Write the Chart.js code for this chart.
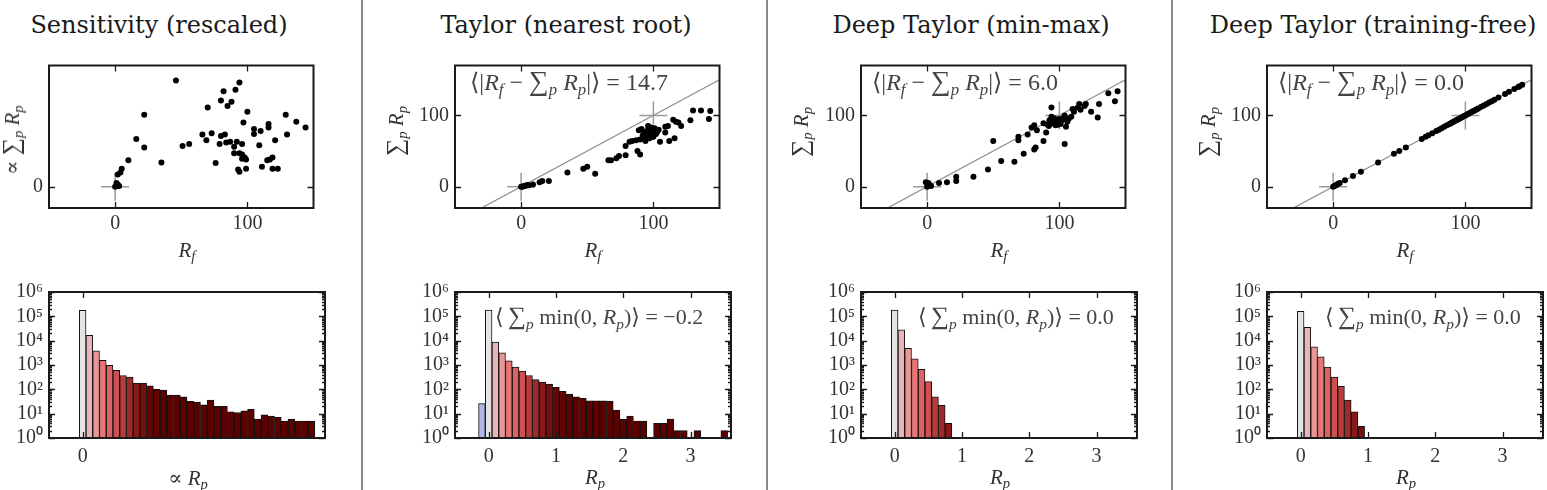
<!DOCTYPE html>
<html>
<head>
<meta charset="utf-8">
<script src="https://cdn.jsdelivr.net/npm/chart.js@4.4.0/dist/chart.umd.min.js"></script>
<style>
body { margin: 0; width: 1547px; height: 490px; background: #fff; position: relative; overflow: hidden;
       font-family: "Liberation Serif", "DejaVu Serif", serif; color: #222; }
canvas { position: absolute; }
.sep { position: absolute; top: 0; width: 2px; height: 490px; background: #8a8a8a; }
.title { position: absolute; font-family: "DejaVu Serif", serif; font-size: 24px; white-space: nowrap;
         transform: translate(-50%, -50%); color: #1a1a1a; }
.lab { position: absolute; font-size: 21px; white-space: nowrap; transform: translate(-50%, -50%); color: #333; }
.rot { transform: translate(-50%, -50%) rotate(-90deg); }
.ann { position: absolute; font-size: 22px; white-space: nowrap; transform: translateY(-50%); color: #444; }
.ann.top { font-size: 24px; }
sub { font-size: 70%; position: relative; top: 0.3em; vertical-align: baseline; font-style: italic; }
.big { font-size: 115%; }
</style>
</head>
<body>
<div class="sep" style="left:361px"></div>
<div class="sep" style="left:766px"></div>
<div class="sep" style="left:1171px"></div>

<div class="title" style="left:159px;top:25px">Sensitivity (rescaled)</div>
<div class="title" style="left:566px;top:25px">Taylor (nearest root)</div>
<div class="title" style="left:971px;top:25px">Deep Taylor (min-max)</div>
<div class="title" style="left:1373px;top:25px">Deep Taylor (training-free)</div>

<canvas id="sc0" width="328" height="188" style="left:1px;top:50px"></canvas>
<canvas id="sc1" width="328" height="188" style="left:407px;top:50px"></canvas>
<canvas id="sc2" width="328" height="188" style="left:813px;top:50px"></canvas>
<canvas id="sc3" width="328" height="188" style="left:1219px;top:50px"></canvas>
<canvas id="h0" width="328" height="188" style="left:1px;top:280px"></canvas>
<canvas id="h1" width="328" height="188" style="left:407px;top:280px"></canvas>
<canvas id="h2" width="328" height="188" style="left:813px;top:280px"></canvas>
<canvas id="h3" width="328" height="188" style="left:1219px;top:280px"></canvas>

<div class="lab rot" style="left:11px;top:140px">&prop; <span class="big">&sum;</span><sub>p</sub> <i>R</i><sub>p</sub></div>
<div class="lab rot" style="left:395px;top:131px"><span class="big">&sum;</span><sub>p</sub> <i>R</i><sub>p</sub></div>
<div class="lab rot" style="left:800px;top:132px"><span class="big">&sum;</span><sub>p</sub> <i>R</i><sub>p</sub></div>
<div class="lab rot" style="left:1207px;top:132px"><span class="big">&sum;</span><sub>p</sub> <i>R</i><sub>p</sub></div>

<div class="lab" style="left:187px;top:250px"><i>R</i><sub>f</sub></div>
<div class="lab" style="left:593px;top:250px"><i>R</i><sub>f</sub></div>
<div class="lab" style="left:999px;top:250px"><i>R</i><sub>f</sub></div>
<div class="lab" style="left:1405px;top:250px"><i>R</i><sub>f</sub></div>

<div class="lab" style="left:188px;top:478px">&prop; <i>R</i><sub>p</sub></div>
<div class="lab" style="left:595px;top:477px"><i>R</i><sub>p</sub></div>
<div class="lab" style="left:1000px;top:477px"><i>R</i><sub>p</sub></div>
<div class="lab" style="left:1406px;top:477px"><i>R</i><sub>p</sub></div>

<div class="ann top" style="left:470px;top:81px">&lang;|<i>R</i><sub>f</sub> &minus; <span class="big">&sum;</span><sub>p</sub> <i>R</i><sub>p</sub>|&rang; = 14.7</div>
<div class="ann top" style="left:872px;top:81px">&lang;|<i>R</i><sub>f</sub> &minus; <span class="big">&sum;</span><sub>p</sub> <i>R</i><sub>p</sub>|&rang; = 6.0</div>
<div class="ann top" style="left:1278px;top:81px">&lang;|<i>R</i><sub>f</sub> &minus; <span class="big">&sum;</span><sub>p</sub> <i>R</i><sub>p</sub>|&rang; = 0.0</div>
<div class="ann" style="left:495px;top:315px">&lang;&thinsp;<span class="big">&sum;</span><sub>p</sub> min(0, <i>R</i><sub>p</sub>)&rang; = &minus;0.2</div>
<div class="ann" style="left:918px;top:315px">&lang;&thinsp;<span class="big">&sum;</span><sub>p</sub> min(0, <i>R</i><sub>p</sub>)&rang; = 0.0</div>
<div class="ann" style="left:1325px;top:315px">&lang;&thinsp;<span class="big">&sum;</span><sub>p</sub> min(0, <i>R</i><sub>p</sub>)&rang; = 0.0</div>

<script>
// scatter data: R_f (x) against sum of R_p (y)
const sensRf = [46, 94, 91, 82, 80, 88, 85, 70, 100, 22, 129, 137, 97, 144, 116, 116, 105, 105, 110, 130,
                66, 73, 80, 83, 69, 16, 22, 51, 56, 79, 84, 87, 92, 96, 90, 109, 121, 90, 94, 96,
                98, 99, 96, 117, 115, 119, 76, 35, 10, 111, 93, 94, 99, 119, 123, 5, 4, 2, 0, 1, 2, 3, 1, 2];
const sensRp = [149, 146, 136, 134, 121, 119, 113, 111, 105, 101, 101, 91, 90, 83, 88, 83, 81, 74, 78, 73,
                73, 75, 71, 73, 65, 67, 55, 57, 60, 60, 62, 63, 63, 60, 56, 58, 65, 47, 47, 45,
                41, 38, 39, 38, 37, 41, 33, 34, 37, 28, 24, 21, 25, 25, 25, 25, 20, 17, 0, 2, 3, 1, 5, 1];

const taylorRf = [0, 2, 4, 9, 14, 16, 21, 35, 47, 50, 56, 66, 68, 72, 74, 79, 79, 82, 84, 87,
                  88, 90, 89, 91, 94, 96, 93, 90, 99, 100, 97, 94, 101, 103, 105, 109, 109, 111, 112, 116,
                  115, 117, 119, 121, 128, 130, 136, 142, 143, 92, 95, 97, 98, 93, 96, 100, 102, 99, 104,
                  1, 3, 5, 6];
const taylorRp = [0, 1, 2, 3, 6, 8, 8, 20, 25, 28, 18, 37, 37, 40, 43, 44, 57, 63, 64, 65,
                  50, 45, 79, 81, 76, 85, 70, 66, 70, 80, 74, 64, 82, 77, 63, 76, 84, 85, 64, 68,
                  94, 91, 90, 85, 93, 107, 107, 95, 106, 72, 78, 68, 83, 75, 72, 70, 74, 76, 80,
                  0, 1, 2, 2];

const minmaxRf = [0, 1, 2, -1, 3, 9, 15, 22, 22, 35, 46, 50, 56, 66, 69, 69, 73, 76, 79, 81,
                  83, 81, 82, 88, 90, 88, 91, 92.5, 94, 94, 96, 97, 99, 100, 102, 104, 105, 104, 106, 109,
                  110, 114, 115, 119, 120, 124, 129, 130, 137, 142, 144, 116, 111,
                  93, 95, 97, 98, 100, 92, 96, 101, 103, 107];
const minmaxRp = [0, 5, 2, 6, 1, 5, 6, 14, 8, 14, 24, 64, 36, 35, 70, 65, 46, 73, 83, 86,
                  79, 52, 55, 64, 76, 89, 87, 93, 111, 98, 90, 94, 87, 95, 93, 100, 84, 60, 91, 98,
                  109, 111, 116, 113, 116, 105, 97, 116, 131, 120, 134, 108, 105,
                  88, 92, 86, 91, 90, 85, 96, 88, 96, 95];

const freeRf = [0, 1, 2, 3, 4, 5, 9, 15, 21, 34, 46, 50, 55, 67, 70, 72, 75, 78, 80, 82,
                84, 86, 88, 89, 90, 91, 92, 93, 94, 95, 96, 97, 98, 99, 100, 101, 102, 103, 104, 105,
                106, 107, 108, 109, 110, 112, 114, 116, 118, 120, 122, 125, 130, 133, 137, 140, 141, 143];
const freeRp = [0, 1, 2, 3, 4, 5, 9, 15, 21, 34, 46, 50, 55, 67, 70, 72, 75, 78, 80, 82,
                84, 86, 88, 89, 90, 91, 92, 93, 94, 95, 96, 97, 98, 99, 100, 101, 102, 103, 104, 105,
                106, 107, 108, 109, 110, 112, 114, 116, 118, 120, 122, 125, 130, 133, 137, 140, 141, 143];

// histogram data: bin centres of R_p and counts
const sensBins = [0, 0.1, 0.2, 0.3, 0.4, 0.5, 0.6, 0.7, 0.8, 0.9, 1.0, 1.1, 1.2, 1.3, 1.4, 1.5, 1.6, 1.7,
                  1.8, 1.9, 2.0, 2.1, 2.2, 2.3, 2.4, 2.5, 2.6, 2.7, 2.8, 2.9, 3.0, 3.1, 3.2, 3.3, 3.4];
const sensCounts = [178000, 16600, 3800, 1550, 980, 600, 370, 316, 182, 182, 138, 100, 93, 58, 58, 49, 32, 30,
                    23, 36, 20, 20, 12, 11, 13, 15, 6, 9, 8, 7, 5, 6, 5, 5, 5];

const taylorBins = [-0.1, 0, 0.1, 0.2, 0.3, 0.4, 0.5, 0.6, 0.7, 0.8, 0.9, 1.0, 1.1, 1.2, 1.3, 1.4, 1.5, 1.6, 1.7,
                    1.8, 1.9, 2.0, 2.1, 2.2, 2.3, 2.4, 2.5, 2.6, 2.7, 2.8, 2.9, 3.0, 3.1, 3.2, 3.3, 3.4, 3.5];
const taylorCounts = [26, 180000, 8700, 3200, 1480, 830, 560, 370, 250, 200, 166, 120, 83, 64, 49, 43, 34, 34, 34,
                      33, 14, 6, 8, 5, 5, 0, 4, 4, 6, 2, 2, 0, 2, 0, 0, 0, 2];

const minmaxBins = [0, 0.1, 0.2, 0.3, 0.4, 0.5, 0.6, 0.7, 0.8];
const minmaxCounts = [180000, 28000, 4800, 1800, 660, 210, 49, 22, 4];

const freeBins = [0, 0.1, 0.2, 0.3, 0.4, 0.5, 0.6, 0.7, 0.8, 0.9];
const freeCounts = [160000, 35000, 5600, 2150, 830, 316, 134, 36, 12, 3];

// ticks
const scatterTicks = [0, 100];
const sensScatterYTicks = [0];
const histTicks = [0, 1, 2, 3];
const sensHistTicks = [0];
const logTicks = [1, 10, 100, 1000, 10000, 100000, 1000000];

// colour by relevance value: blue < 0, grey at 0, reds above
const colorStops = [[-0.1, [176, 182, 232]], [0, [228, 228, 228]], [0.1, [232, 182, 186]], [0.2, [234, 150, 150]],
    [0.3, [232, 118, 118]], [0.4, [222, 98, 98]], [0.5, [206, 80, 80]], [0.6, [184, 60, 60]],
    [0.7, [160, 42, 42]], [0.8, [138, 26, 26]], [0.9, [118, 14, 14]], [1.0, [104, 6, 6]], [1.2, [92, 0, 0]]];

function colorFor(v) {
    if (v <= colorStops[0][0]) return "rgb(" + colorStops[0][1].join(",") + ")";
    for (let i = 1; i < colorStops.length; i++) {
        if (v <= colorStops[i][0] + 1e-9) {
            const [a, ca] = colorStops[i - 1], [b, cb] = colorStops[i];
            const t = Math.min(1, Math.max(0, (v - a) / (b - a)));
            return "rgb(" + ca.map((c, k) => Math.round(c + (cb[k] - c) * t)).join(",") + ")";
        }
    }
    return "rgb(" + colorStops[colorStops.length - 1][1].join(",") + ")";
}

const supDigits = "⁰¹²³⁴⁵⁶⁷⁸⁹";
const tickFont = { family: "Liberation Serif", size: 20 };

// box round the plot area plus inward ticks on all four sides
const frame = {
    id: "frame",
    afterDatasetsDraw(chart) {
        const { ctx, chartArea: a, scales: { x, y } } = chart;
        ctx.save();
        ctx.strokeStyle = "#1a1a1a";
        ctx.lineWidth = 1.3;
        ctx.beginPath();
        x.ticks.forEach(t => {
            const px = Math.round(x.getPixelForValue(t.value)) + 0.5;
            ctx.moveTo(px, a.bottom); ctx.lineTo(px, a.bottom - 6);
            ctx.moveTo(px, a.top); ctx.lineTo(px, a.top + 6);
        });
        y.ticks.forEach(t => {
            const py = Math.round(y.getPixelForValue(t.value)) + 0.5;
            ctx.moveTo(a.left, py); ctx.lineTo(a.left + 6, py);
            ctx.moveTo(a.right, py); ctx.lineTo(a.right - 6, py);
        });
        if (y.type === "logarithmic") {
            for (let d = 0; d < 6; d++) {
                for (let m = 2; m < 10; m++) {
                    const py = Math.round(y.getPixelForValue(m * Math.pow(10, d))) + 0.5;
                    ctx.moveTo(a.left, py); ctx.lineTo(a.left + 3, py);
                    ctx.moveTo(a.right, py); ctx.lineTo(a.right - 3, py);
                }
            }
        }
        ctx.stroke();
        ctx.lineWidth = 2;
        ctx.strokeRect(a.left, a.top, a.right - a.left, a.bottom - a.top);
        ctx.restore();
    }
};

function axis(opts, ticksArr, size, horizontal, padding) {
    return Object.assign({
        grid: { display: false, drawTicks: false },
        border: { display: false },
        ticks: { font: tickFont, color: "#333", padding: padding, autoSkip: false, maxRotation: 0 },
        afterBuildTicks: s => { s.ticks = ticksArr.map(v => ({ value: v })); },
        afterFit: s => {
            if (horizontal) s.height = size; else s.width = size;
            s.paddingTop = 0; s.paddingBottom = 0; s.paddingLeft = 0; s.paddingRight = 0;
        }
    }, opts);
}

const baseOptions = {
    responsive: false,
    devicePixelRatio: 1,
    animation: false,
    layout: { padding: { top: 12, right: 4, left: 0, bottom: 0 } },
    plugins: { legend: { display: false }, tooltip: { enabled: false } }
};

const xRange = [-50, 150];

function scatterChart(id, xs, ys, yTicks, withLine) {
    const points = xs.map((v, i) => ({ x: v, y: ys[i] }));
    const datasets = [];
    if (withLine) {
        datasets.push({
            type: "line", data: xRange.map(v => ({ x: v, y: v })),
            borderColor: "#8c8c8c", borderWidth: 1.2, pointRadius: 0, order: 3
        });
    }
    const crosses = withLine ? [0, 100] : [0];
    datasets.push({
        data: crosses.map(v => ({ x: v, y: v })),
        pointStyle: "cross", pointRadius: 14, borderColor: "#9a9a9a", borderWidth: 1.5, order: 2
    });
    datasets.push({
        data: points, pointRadius: 3, backgroundColor: "#000", borderWidth: 0, order: 1
    });
    new Chart(document.getElementById(id), {
        type: "scatter",
        data: { datasets: datasets },
        options: Object.assign({}, baseOptions, {
            scales: {
                x: axis({ type: "linear", min: xRange[0], max: xRange[1] }, scatterTicks, 30, true, 4),
                y: axis({ type: "linear", min: -30, max: 170 }, yTicks, 48, false, 6)
            }
        }),
        plugins: [frame]
    });
}

function histChart(id, bins, counts, xTicks) {
    new Chart(document.getElementById(id), {
        type: "bar",
        data: {
            datasets: [{
                data: bins.map((c, i) => ({ x: c, y: counts[i] > 0 ? counts[i] : null })),
                backgroundColor: bins.map(colorFor),
                borderColor: "#111",
                borderWidth: 1,
                borderSkipped: "start",
                barPercentage: 1,
                categoryPercentage: 1
            }]
        },
        options: Object.assign({}, baseOptions, {
            scales: {
                x: axis({ type: "linear", min: -0.5, max: 3.6, offset: false }, xTicks, 30, true, 7),
                y: axis({
                    type: "logarithmic", min: 1, max: 1e6,
                    ticks: {
                        font: tickFont, color: "#333", padding: 6, autoSkip: false,
                        callback: v => "10" + supDigits[Math.round(Math.log10(v))]
                    }
                }, logTicks, 48, false, 6)
            }
        }),
        plugins: [frame]
    });
}

scatterChart("sc0", sensRf, sensRp, sensScatterYTicks, false);
scatterChart("sc1", taylorRf, taylorRp, scatterTicks, true);
scatterChart("sc2", minmaxRf, minmaxRp, scatterTicks, true);
scatterChart("sc3", freeRf, freeRp, scatterTicks, true);

histChart("h0", sensBins, sensCounts, sensHistTicks);
histChart("h1", taylorBins, taylorCounts, histTicks);
histChart("h2", minmaxBins, minmaxCounts, histTicks);
histChart("h3", freeBins, freeCounts, histTicks);
</script>
</body>
</html>
